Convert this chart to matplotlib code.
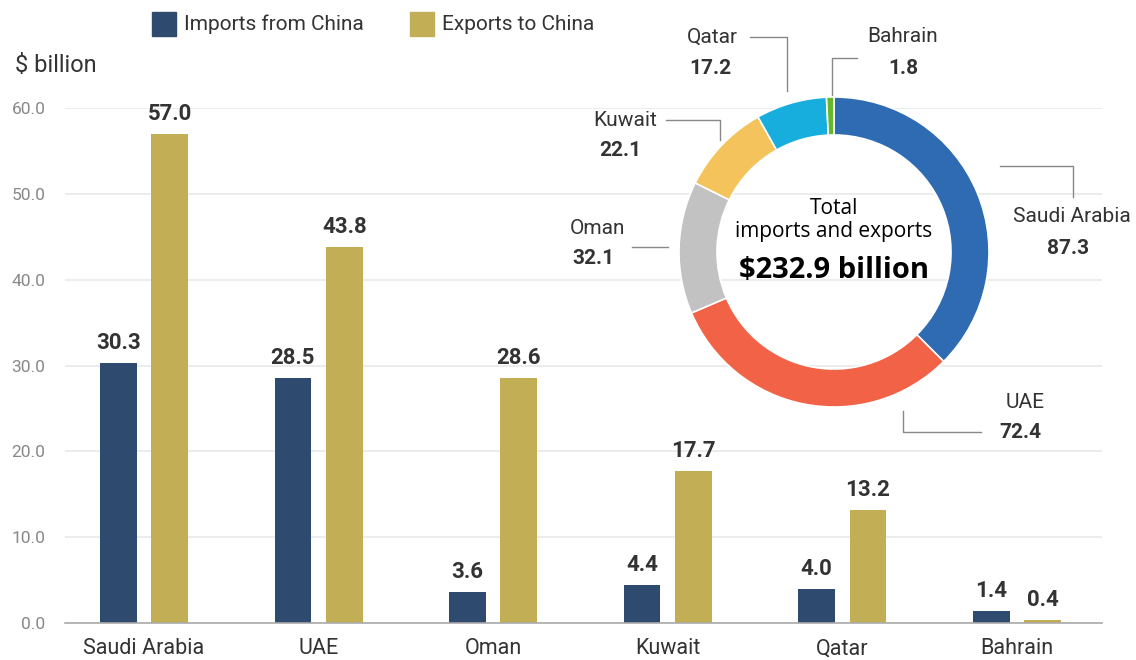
import matplotlib
matplotlib.use("Agg")
import matplotlib.pyplot as plt
import numpy as np

# ---------------- data ----------------
countries = ["Saudi Arabia", "UAE", "Oman", "Kuwait", "Qatar", "Bahrain"]
imports_from_china = [30.3, 28.5, 3.6, 4.4, 4.0, 1.4]
exports_to_china = [57.0, 43.8, 28.6, 17.7, 13.2, 0.4]
y_ticks = [0, 10, 20, 30, 40, 50, 60]

donut_labels = ["Saudi Arabia", "UAE", "Oman", "Kuwait", "Qatar", "Bahrain"]
donut_values = [87.3, 72.4, 32.1, 22.1, 17.2, 1.8]
donut_total_text = "$232.9 billion"

# ---------------- style ----------------
C_IMP = "#2E4A6E"
C_EXP = "#C2AE55"
DONUT_COLORS = ["#2F6BB3", "#F26246", "#C2C2C2", "#F5C35B", "#17AEDD", "#66B82A"]
TXT = "#333333"
GRID = "#E9E9E9"
FONT = "Roboto"
plt.rcParams["font.family"] = [FONT, "DejaVu Sans"]
OPEN = ["Open Sans", "DejaVu Sans"]

W, H = 1136, 660
fig = plt.figure(figsize=(W / 100, H / 100), dpi=100)

# ---------------- bar chart ----------------
left_px, right_px, bottom_px, top_px = 65, 1102, 623, 108
ax = fig.add_axes([left_px / W, (H - bottom_px) / H, (right_px - left_px) / W, (bottom_px - top_px) / H])
x = np.arange(len(countries))
bw = 0.21
off = 0.147
b1 = ax.bar(x - off, imports_from_china, bw, color=C_IMP, zorder=3)
b2 = ax.bar(x + off, exports_to_china, bw, color=C_EXP, zorder=3)
ax.set_xlim(-0.452, 5.487)
ax.set_ylim(0, 60)
ax.set_yticks(y_ticks)
ax.set_yticklabels([f"{t:.1f}" for t in y_ticks], color="#888888", fontsize=12.5)
ax.tick_params(axis="y", length=0, pad=14)
ax.set_xticks(x)
ax.set_xticklabels(countries, fontsize=15.5, color=TXT)
ax.tick_params(axis="x", length=0, pad=11)
ax.grid(axis="y", color=GRID, linewidth=1.2, zorder=0)
for s in ["top", "right", "left"]:
    ax.spines[s].set_visible(False)
ax.spines["bottom"].set_color("#AAAAAA")
ax.spines["bottom"].set_linewidth(1.2)
ax.spines["bottom"].set_zorder(4)

for bars, vals in ((b1, imports_from_china), (b2, exports_to_china)):
    for r, v in zip(bars, vals):
        ax.annotate(f"{v:.1f}", (r.get_x() + r.get_width() / 2, v), xytext=(0, 10),
                    textcoords="offset points", ha="center", va="baseline",
                    fontsize=16, fontweight="bold", color=TXT, annotation_clip=False)

# ---------------- overlay (pixel coords) ----------------
ov = fig.add_axes([0, 0, 1, 1])
ov.set_xlim(0, W)
ov.set_ylim(H, 0)
ov.axis("off")

# legend
ov.add_patch(plt.Rectangle((152, 12), 24, 24, color=C_IMP))
ov.text(184, 24, "Imports from China", fontsize=15, color=TXT, va="center", ha="left")
ov.add_patch(plt.Rectangle((410, 12), 24, 24, color=C_EXP))
ov.text(442, 24, "Exports to China", fontsize=15, color=TXT, va="center", ha="left")
ov.text(15, 65, "$ billion", fontsize=17, color=TXT, va="center", ha="left")

# ---------------- donut ----------------
cx, cy, R = 834, 252, 155
dax = fig.add_axes([(cx - R) / W, (H - cy - R) / H, 2 * R / W, 2 * R / H])
dax.pie(donut_values, colors=DONUT_COLORS, startangle=90, counterclock=False,
        radius=1.0, wedgeprops=dict(width=0.245, edgecolor="white", linewidth=1.2))
dax.set_xlim(-1, 1)
dax.set_ylim(-1, 1)
dax.set_aspect("auto")
dax.axis("off")

ov.text(cx, 208, "Total", fontsize=15, family=OPEN, color="black", ha="center", va="center")
ov.text(cx, 231, "imports and exports", fontsize=15, family=OPEN, color="black", ha="center", va="center")
ov.text(cx, 270, donut_total_text, fontsize=21, fontweight="bold", family=OPEN,
        color="black", ha="center", va="center")

LC = "#888888"
leaders = {
    "Qatar": [(750, 37), (787, 37), (787, 91)],
    "Bahrain": [(857, 58), (832, 58), (832, 96)],
    "Kuwait": [(666, 120), (720, 120), (720, 140)],
    "Oman": [(632, 247), (668, 247)],
    "Saudi Arabia": [(1000, 166), (1073, 166), (1073, 197)],
    "UAE": [(903, 411), (903, 432), (981, 432)],
}
label_pos = {
    "Qatar": ((712, 37), (710, 68)),
    "Bahrain": ((903, 37), (903, 68)),
    "Kuwait": ((625, 120), (620, 150)),
    "Oman": ((597, 228), (593, 258)),
    "Saudi Arabia": ((1072, 217), (1068, 248)),
    "UAE": ((1025, 402), (1020, 433)),
}
for name, val in zip(donut_labels, donut_values):
    pts = leaders[name]
    ov.plot([p[0] for p in pts], [p[1] for p in pts], color=LC, linewidth=1.0)
    (nx, ny), (vx, vy) = label_pos[name]
    ov.text(nx, ny, name, fontsize=15, color=TXT, ha="center", va="center")
    ov.text(vx, vy, f"{val:.1f}", fontsize=15, fontweight="bold", color=TXT, ha="center", va="center")

fig.savefig("out.png", dpi=100, facecolor="white")
